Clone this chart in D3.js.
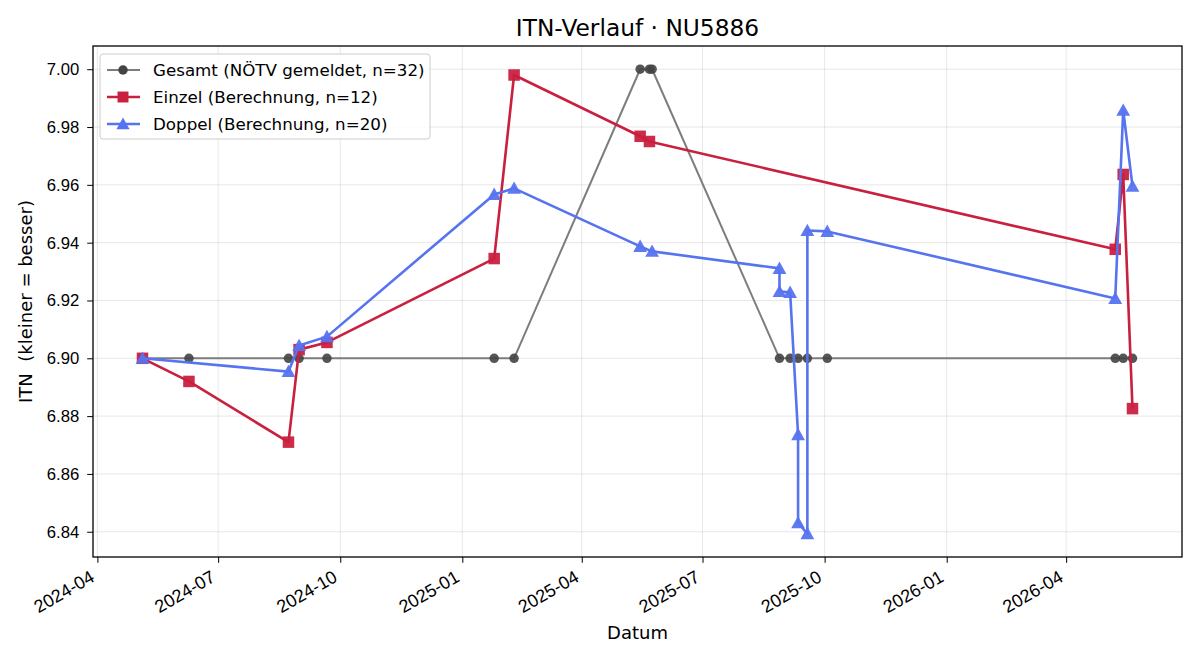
<!DOCTYPE html>
<html>
<head>
<meta charset="utf-8">
<title>ITN-Verlauf</title>
<style>
body { margin: 0; background: #fff; }
svg { font-family: "DejaVu Sans", sans-serif; }
.grid line { stroke: #b0b0b0; stroke-opacity: 0.3; }
.axis path, .axis line { stroke: #000; }
</style>
</head>
<body>
<div id="chart"></div>
<script src="https://cdn.jsdelivr.net/npm/d3@7/dist/d3.min.js"></script>
<script>

// Gesamt (NÖTV gemeldet) - gray circles
var gesamtDates = ["2024-05-05","2024-06-09","2024-08-23","2024-08-31","2024-09-21","2025-01-25","2025-02-09",
  "2025-05-15","2025-05-22","2025-05-24","2025-08-28","2025-09-05","2025-09-11","2025-09-18","2025-10-03",
  "2026-05-08","2026-05-14","2026-05-21"];
var gesamtValues = [6.90,6.90,6.90,6.90,6.90,6.90,6.90,
  7.00,7.00,7.00,6.90,6.90,6.90,6.90,6.90,
  6.90,6.90,6.90];

// Einzel (Berechnung) - red squares
var einzelDates = ["2024-05-05","2024-06-09","2024-08-23","2024-08-31","2024-09-21","2025-01-25","2025-02-09",
  "2025-05-15","2025-05-22","2026-05-08","2026-05-14","2026-05-21"];
var einzelValues = [6.900,6.892,6.871,6.903,6.9055,6.9345,6.998,6.9768,6.975,6.9377,6.9636,6.8826];

// Doppel (Berechnung) - blue triangles
var doppelDates = ["2024-05-05","2024-08-23","2024-08-31","2024-09-21","2025-01-25","2025-02-09",
  "2025-05-15","2025-05-24","2025-08-28","2025-08-28","2025-09-05","2025-09-11","2025-09-11",
  "2025-09-18","2025-09-18","2025-10-03","2026-05-08","2026-05-14","2026-05-21"];
var doppelValues = [6.900,6.8954,6.9044,6.9075,6.9567,6.9588,
  6.9387,6.937,6.9311,6.9231,6.9228,6.8736,6.8431,
  6.8393,6.9442,6.9439,6.9207,6.9858,6.9595];

var yTicks = [6.84,6.86,6.88,6.90,6.92,6.94,6.96,6.98,7.00];
var xTicks = ["2024-04-01","2024-07-01","2024-10-01","2025-01-01","2025-04-01","2025-07-01",
  "2025-10-01","2026-01-01","2026-04-01"];

var parse = d3.timeParse("%Y-%m-%d");
function toPoints(dates, values) {
  return dates.map(function(d, i) { return {date: parse(d), value: values[i]}; });
}
var series = [
  {name: "Gesamt (NÖTV gemeldet, n=32)", pts: toPoints(gesamtDates, gesamtValues),
   line: "#7d7d7d", fill: "#444", width: 2, marker: "circle"},
  {name: "Einzel (Berechnung, n=12)", pts: toPoints(einzelDates, einzelValues),
   line: "#c9203f", fill: "#c9203f", width: 2.6, marker: "square"},
  {name: "Doppel (Berechnung, n=20)", pts: toPoints(doppelDates, doppelValues),
   line: "#5673f0", fill: "#5673f0", width: 2.6, marker: "triangle"}
];

var W = 1200, H = 660;
var margin = {top: 46, right: 18, bottom: 103, left: 93};
var width = W - margin.left - margin.right,
    height = H - margin.top - margin.bottom;

var svg = d3.select("#chart").append("svg")
    .attr("width", W).attr("height", H);
var g = svg.append("g")
    .attr("transform", "translate(" + margin.left + "," + margin.top + ")");

// matplotlib-style 5% margins
var allPts = series[0].pts.concat(series[1].pts, series[2].pts);
var xe = d3.extent(allPts, function(d) { return +d.date; });
var ye = d3.extent(allPts, function(d) { return d.value; });
var xp = (xe[1] - xe[0]) * 0.05, yp = (ye[1] - ye[0]) * 0.05;

var x = d3.scaleTime().domain([new Date(xe[0] - xp), new Date(xe[1] + xp)]).range([0, width]);
var y = d3.scaleLinear().domain([ye[0] - yp, ye[1] + yp]).range([height, 0]);

var xTickDates = xTicks.map(parse);

// grid
g.append("g").attr("class", "grid")
  .selectAll("line").data(xTickDates).enter().append("line")
  .attr("x1", function(d) { return x(d); }).attr("x2", function(d) { return x(d); })
  .attr("y1", 0).attr("y2", height);
g.append("g").attr("class", "grid")
  .selectAll("line").data(yTicks).enter().append("line")
  .attr("y1", function(d) { return y(d); }).attr("y2", function(d) { return y(d); })
  .attr("x1", 0).attr("x2", width);

// axes
var xAxis = g.append("g").attr("class", "axis")
  .attr("transform", "translate(0," + height + ")")
  .call(d3.axisBottom(x).tickValues(xTickDates).tickFormat(d3.timeFormat("%Y-%m"))
        .tickSizeInner(5.8).tickSizeOuter(0));
xAxis.select(".domain").remove();
// rotated like autofmt_xdate: right end of label just under the tick
xAxis.selectAll("text")
  .style("font-size", "18px").attr("fill", "#000")
  .attr("text-anchor", "end")
  .attr("x", 0).attr("y", 0).attr("dy", 0)
  .attr("transform", "translate(-2.2,23.5) rotate(-30)");

var yAxis = g.append("g").attr("class", "axis")
  .call(d3.axisLeft(y).tickValues(yTicks).tickFormat(d3.format(".2f"))
        .tickSizeInner(5.8).tickSizeOuter(0).tickPadding(8));
yAxis.select(".domain").remove();
yAxis.selectAll("text").style("font-size", "16.7px").attr("fill", "#000");

// frame
g.append("rect").attr("width", width).attr("height", height)
  .attr("fill", "none").attr("stroke", "#000").attr("stroke-width", 1.3);

var line = d3.line().x(function(d) { return x(d.date); }).y(function(d) { return y(d.value); });

function drawMarker(sel, type, size) {
  if (type === "circle") {
    sel.append("circle").attr("r", size / 2);
  } else if (type === "square") {
    sel.append("rect").attr("x", -size / 2).attr("y", -size / 2).attr("width", size).attr("height", size);
  } else {
    var s = size * 0.6;
    sel.append("path").attr("d", "M0," + (-s) + " L" + (s) + "," + (s * 0.8) + " L" + (-s) + "," + (s * 0.8) + " Z");
  }
}

var markerSize = {circle: 9.5, square: 11.5, triangle: 11.5};

series.forEach(function(s) {
  var sg = g.append("g");
  sg.append("path").datum(s.pts)
    .attr("d", line).attr("fill", "none")
    .attr("stroke", s.line).attr("stroke-width", s.width)
    .attr("stroke-linejoin", "round");
  sg.selectAll("g.pt").data(s.pts).enter().append("g")
    .attr("class", "pt")
    .attr("transform", function(d) { return "translate(" + x(d.date) + "," + y(d.value) + ")"; })
    .each(function() { drawMarker(d3.select(this), s.marker, markerSize[s.marker]); })
    .selectAll("*").attr("fill", s.fill).attr("fill-opacity", s.marker === "circle" ? 0.9 : 0.95);
});

// legend
var lg = g.append("g").attr("transform", "translate(7,8)");
lg.append("rect").attr("width", 330).attr("height", 85).attr("rx", 3)
  .attr("fill", "#fff").attr("fill-opacity", 0.8).attr("stroke", "#ccc");
series.forEach(function(s, i) {
  var row = lg.append("g").attr("transform", "translate(0," + (16 + i * 27) + ")");
  row.append("line").attr("x1", 7).attr("x2", 40)
    .attr("stroke", s.line).attr("stroke-width", s.width);
  var m = row.append("g").attr("transform", "translate(23,0)");
  drawMarker(m, s.marker, markerSize[s.marker] * (s.marker === "circle" ? 1 : 0.95));
  m.selectAll("*").attr("fill", s.fill);
  row.append("text").attr("x", 53).attr("dy", "0.35em")
    .style("font-size", "16.7px").text(s.name);
});

// titles
svg.append("text").attr("x", margin.left + width / 2).attr("y", 36)
  .attr("text-anchor", "middle").style("font-size", "23.3px").text("ITN-Verlauf · NU5886");
svg.append("text").attr("x", margin.left + width / 2).attr("y", 639)
  .attr("text-anchor", "middle").style("font-size", "18px").text("Datum");
svg.append("text")
  .attr("transform", "translate(32," + (margin.top + height / 2) + ") rotate(-90)")
  .attr("text-anchor", "middle").style("font-size", "18px")
  .style("white-space", "pre").attr("xml:space", "preserve")
  .text("ITN  (kleiner = besser)");

</script>
</body>
</html>
